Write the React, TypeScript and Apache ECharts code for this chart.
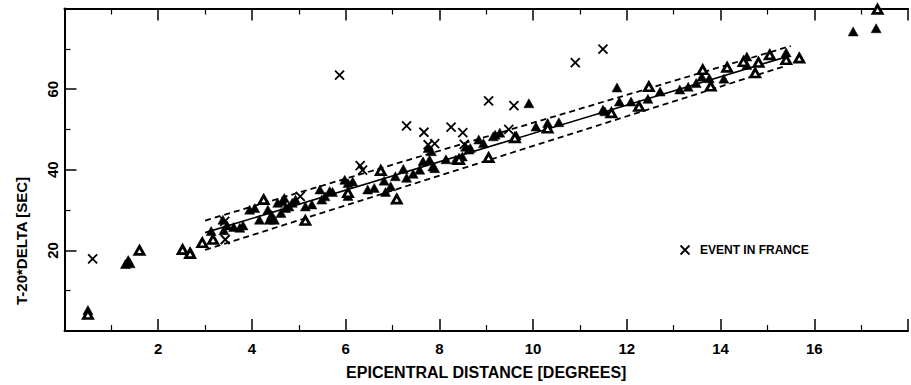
import React, { useEffect, useRef } from "react";
import * as echarts from "echarts";

// x-axis ticks
const xTicks = [2, 4, 6, 8, 10, 12, 14, 16];
const yTicks = [20, 40, 60];

// filled triangles [distance (deg), T-20*DELTA (s)]
const filledTriangles: number[][] = [
  [0.5, 5.2], [1.3, 16.6], [1.36, 17.6], [1.4, 16.8], [2.68, 19.8],
  [3.13, 24.8], [3.38, 27.6], [3.47, 26.2], [3.4, 25.0], [3.61, 25.8], [3.74, 25.6], [3.81, 26.2],
  [3.95, 30.1], [4.06, 30.5], [4.16, 27.6], [4.34, 30.1], [4.37, 27.6], [4.48, 27.6], [4.42, 28.8],
  [4.55, 31.8], [4.65, 32.2], [4.69, 33.0], [4.62, 29.3], [4.72, 30.5], [4.79, 30.9], [4.86, 31.8],
  [4.93, 32.6], [5.14, 30.9], [5.28, 31.4], [5.45, 35.1], [5.49, 32.6], [5.56, 33.4], [5.66, 34.7],
  [5.72, 34.5], [5.98, 37.5], [6.05, 36.7], [6.15, 37.1], [6.05, 33.5], [6.47, 35.1], [6.61, 35.5],
  [6.82, 37.3], [6.85, 34.5], [6.96, 35.9], [7.06, 38.4], [7.23, 40.2], [7.3, 38.0], [7.44, 39.0],
  [7.58, 40.0], [7.65, 42.1], [7.76, 45.4], [7.79, 42.5], [7.83, 44.6], [7.86, 40.8], [7.9, 40.4],
  [8.14, 42.6], [8.35, 42.5], [8.49, 43.3], [8.56, 45.7], [8.63, 45.0], [8.66, 45.4], [8.84, 47.5],
  [8.94, 46.6], [9.15, 48.3], [9.19, 48.7], [9.29, 49.2], [9.64, 48.5], [9.91, 56.5], [10.06, 50.7],
  [10.31, 51.6], [10.55, 51.8], [11.49, 54.9], [11.53, 54.5], [11.79, 60.4], [11.84, 56.9],
  [12.09, 56.9], [12.45, 57.6], [12.71, 59.4], [13.13, 59.9], [13.31, 60.6], [13.48, 61.5],
  [13.6, 63.1], [13.76, 62.7], [14.07, 62.6], [14.56, 68.1], [14.56, 66.0], [15.4, 69.1],
  [16.83, 74.3], [17.32, 75.1],
];

// open triangles
const openTriangles: number[][] = [
  [0.5, 4.1], [1.6, 20.0], [2.52, 20.2], [2.68, 19.2], [2.94, 21.9], [3.17, 22.7], [4.25, 32.6],
  [5.14, 27.4], [6.05, 34.3], [6.75, 39.8], [7.09, 32.7], [8.42, 42.5], [9.05, 43.0], [9.61, 47.9],
  [10.31, 50.3], [11.67, 54.1], [12.26, 55.7], [12.47, 60.6], [13.62, 64.8], [13.79, 60.7],
  [14.14, 65.4], [14.49, 66.8], [14.74, 64.0], [14.81, 66.6], [15.05, 68.5], [15.4, 67.3],
  [15.68, 67.7], [17.35, 79.8],
];

// events in France (crosses)
const franceEvents: number[][] = [
  [0.6, 17.9], [3.42, 27.2], [3.43, 22.7], [5.03, 33.4], [5.87, 63.5], [6.31, 41.0], [6.36, 39.9],
  [7.3, 50.9], [7.67, 49.3], [7.76, 46.2], [7.9, 46.5], [8.25, 50.6], [8.5, 49.2], [8.53, 46.3],
  [9.05, 57.1], [9.48, 50.0], [9.59, 55.9], [10.9, 66.6], [11.49, 69.9],
];

// regression line and bounds
const fitLine: number[][] = [[3.0, 24.4], [15.4, 68.0]];
const upperBound: number[][] = [[3.0, 27.4], [15.5, 70.7]];
const lowerBound: number[][] = [[3.0, 20.1], [15.4, 65.8]];

const FONT = "Liberation Sans";
const CROSS = "path://M0 0L10 10M10 0L0 10";

export default function App() {
  const ref = useRef<HTMLDivElement>(null);
  useEffect(() => {
    const chart = echarts.init(ref.current!, null, { renderer: "svg" });
    const axisLine = { show: true, lineStyle: { color: "#000", width: 2 } };
    chart.setOption({
      animation: false,
      backgroundColor: "#fff",
      grid: { left: 64.5, top: 8.5, bottom: 53.2, right: -13.2, containLabel: false },
      legend: {
        left: 673,
        top: 238,
        itemWidth: 20,
        itemHeight: 9,
        data: [
          {
            name: "EVENT IN FRANCE",
            icon: CROSS,
            itemStyle: { color: "none", borderColor: "#000", borderWidth: 1.8, opacity: 1 },
          },
        ],
        textStyle: { fontFamily: FONT, fontWeight: "bold", fontSize: 12, color: "#000" },
      },
      graphic: [
        {
          type: "text",
          x: 21,
          y: 241,
          rotation: Math.PI / 2,
          style: {
            text: "T-20*DELTA [SEC]",
            font: `bold 15px "${FONT}"`,
            fill: "#000",
            textAlign: "center",
            textVerticalAlign: "middle",
          },
        },
      ],
      xAxis: [
        {
          type: "value",
          position: "bottom",
          min: 0,
          max: 18,
          interval: 2,
          axisLine,
          axisTick: { show: true, inside: true, length: 12, lineStyle: { color: "#000", width: 1.5 } },
          minorTick: { show: true, splitNumber: 2, length: 6, lineStyle: { color: "#000", width: 1.2 } },
          splitLine: { show: false },
          axisLabel: {
            margin: 10,
            fontFamily: FONT,
            fontWeight: "bold",
            fontSize: 15,
            color: "#000",
            formatter: (v: number) => (xTicks.includes(v) ? String(v) : ""),
          },
          name: "EPICENTRAL DISTANCE [DEGREES]",
          nameLocation: "middle",
          nameGap: 33,
          nameTextStyle: { fontFamily: FONT, fontWeight: "bold", fontSize: 16, color: "#000" },
        },
        {
          type: "value",
          position: "top",
          min: 0,
          max: 18,
          interval: 2,
          axisLine,
          axisTick: { show: true, inside: true, length: 12, lineStyle: { color: "#000", width: 1.5 } },
          minorTick: { show: true, splitNumber: 2, length: 6, lineStyle: { color: "#000", width: 1.2 } },
          splitLine: { show: false },
          axisLabel: { show: false },
        },
      ],
      yAxis: {
        type: "value",
        min: 0,
        max: 80,
        interval: 20,
        axisLine,
        axisTick: { show: true, inside: true, length: 12, lineStyle: { color: "#000", width: 1.5 } },
        minorTick: { show: true, splitNumber: 2, length: 6, lineStyle: { color: "#000", width: 1.2 } },
        splitLine: { show: false },
        axisLabel: {
          rotate: 90,
          margin: 5,
          fontFamily: FONT,
          fontWeight: "bold",
          fontSize: 15,
          color: "#000",
          formatter: (v: number) => (yTicks.includes(v) ? String(v) : ""),
        },
      },
      series: [
        {
          name: "fit",
          type: "line",
          data: fitLine,
          symbol: "none",
          lineStyle: { color: "#000", width: 1.6, opacity: 1 },
          z: 1,
        },
        {
          name: "upper",
          type: "line",
          data: upperBound,
          symbol: "none",
          lineStyle: { color: "#000", width: 1.8, type: [6, 4], opacity: 1 },
          z: 1,
        },
        {
          name: "lower",
          type: "line",
          data: lowerBound,
          symbol: "none",
          lineStyle: { color: "#000", width: 1.8, type: [6, 4], opacity: 1 },
          z: 1,
        },
        {
          name: "filled",
          type: "scatter",
          data: filledTriangles,
          symbol: "triangle",
          symbolSize: [10, 9],
          itemStyle: { color: "#000", borderColor: "#000", borderWidth: 0.5, opacity: 1 },
          z: 3,
        },
        {
          name: "open",
          type: "scatter",
          data: openTriangles,
          symbol: "triangle",
          symbolSize: [9, 8],
          itemStyle: { color: "#fff", borderColor: "#000", borderWidth: 2.8, opacity: 1 },
          z: 3,
        },
        {
          name: "EVENT IN FRANCE",
          type: "scatter",
          data: franceEvents,
          symbol: CROSS,
          symbolSize: 9,
          itemStyle: { color: "none", borderColor: "#000", borderWidth: 1.8, opacity: 1 },
          z: 4,
        },
      ],
    });
    return () => chart.dispose();
  }, []);
  return (
    <div
      ref={ref}
      style={{ position: "fixed", left: 0, top: 0, width: 911, height: 385, background: "#fff" }}
    />
  );
}
